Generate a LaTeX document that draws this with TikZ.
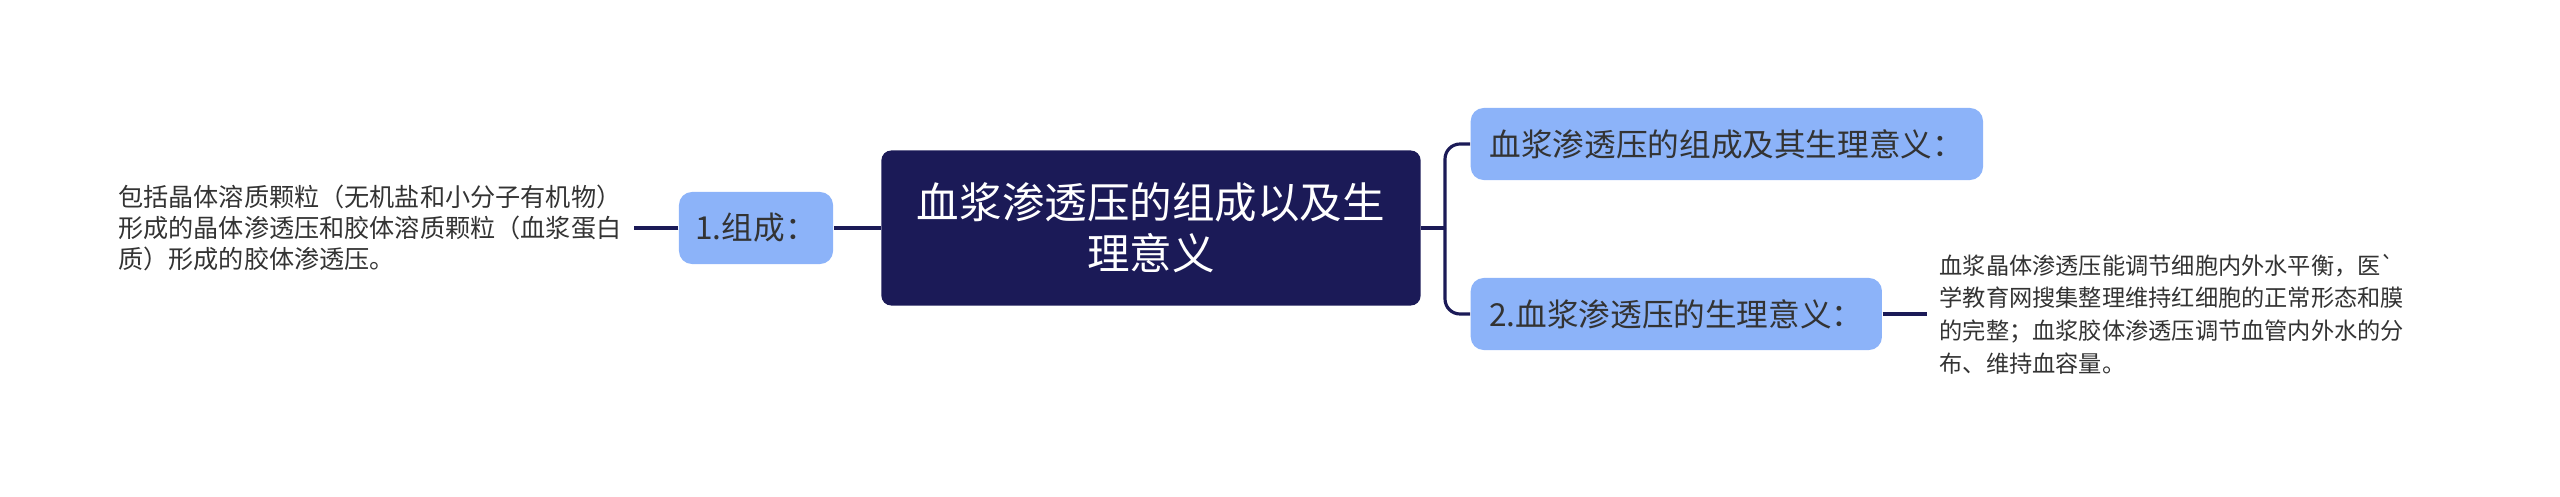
\documentclass[tikz,border=0pt]{standalone}
\usepackage{fontspec}
\newfontfamily\cjkfont{Noto Sans CJK SC}
\usetikzlibrary{positioning}
\definecolor{navy}{HTML}{1B1A57}
\definecolor{leafblue}{HTML}{8CB3F9}
\definecolor{ink}{HTML}{333333}

\begin{document}
\begin{tikzpicture}[
    x=0.01cm, y=-0.01cm,
    root/.style={rectangle, rounded corners=0.1cm, fill=navy, text=white, align=center,
      minimum width=5.39cm, minimum height=1.55cm, inner sep=0pt,
      font=\cjkfont\fontsize{12.1}{14.6}\selectfont},
    topic/.style={rectangle, rounded corners=0.13cm, fill=leafblue, text=ink,
      minimum height=0.72cm, inner xsep=0.15cm, inner ysep=0pt,
      font=\cjkfont\fontsize{9}{10.5}\selectfont},
    note/.style={align=left, text=ink, inner sep=0.12cm,
      font=\cjkfont\fontsize{7.15}{8.9}\selectfont},
    link/.style={draw=navy, line width=0.9pt}
  ]
  \useasboundingbox (0,0) rectangle (2560,497);

  % central topic
  \node[root] (c) at (1151,228) {血浆渗透压的组成以及生\\理意义};

  % left branch
  \node[topic, minimum width=1.54cm] (comp) at (756,228) {1.组成：};
  \node[note, anchor=east] (compnote) at (634,228)
    {包括晶体溶质颗粒（无机盐和小分子有机物）\\形成的晶体渗透压和胶体溶质颗粒（血浆蛋白\\质）形成的胶体渗透压。};

  % right branches
  \node[topic, anchor=west, minimum width=5.12cm] (sig1) at (1470,144) {血浆渗透压的组成及其生理意义：};
  \node[topic, anchor=west, minimum width=4.11cm] (sig2) at (1470,314) {2.血浆渗透压的生理意义：};
  \node[note, anchor=west, font=\cjkfont\fontsize{6.6}{9.3}\selectfont] (signote) at (1927,314)
    {血浆晶体渗透压能调节细胞内外水平衡，医`\\学教育网搜集整理维持红细胞的正常形态和膜\\的完整；血浆胶体渗透压调节血管内外水的分\\布、维持血容量。};

  % connectors
  \coordinate (fork) at (1445,228);
  \draw[link] (c.west) -- (comp.east);
  \draw[link] (comp.west) -- (compnote.east);
  \draw[link] (c.east) -- (fork);
  \draw[link, rounded corners=0.15cm] (fork) |- (sig1.west);
  \draw[link, rounded corners=0.15cm] (fork) |- (sig2.west);
  \draw[link] (sig2.east) -- (signote.west);
\end{tikzpicture}
\end{document}
